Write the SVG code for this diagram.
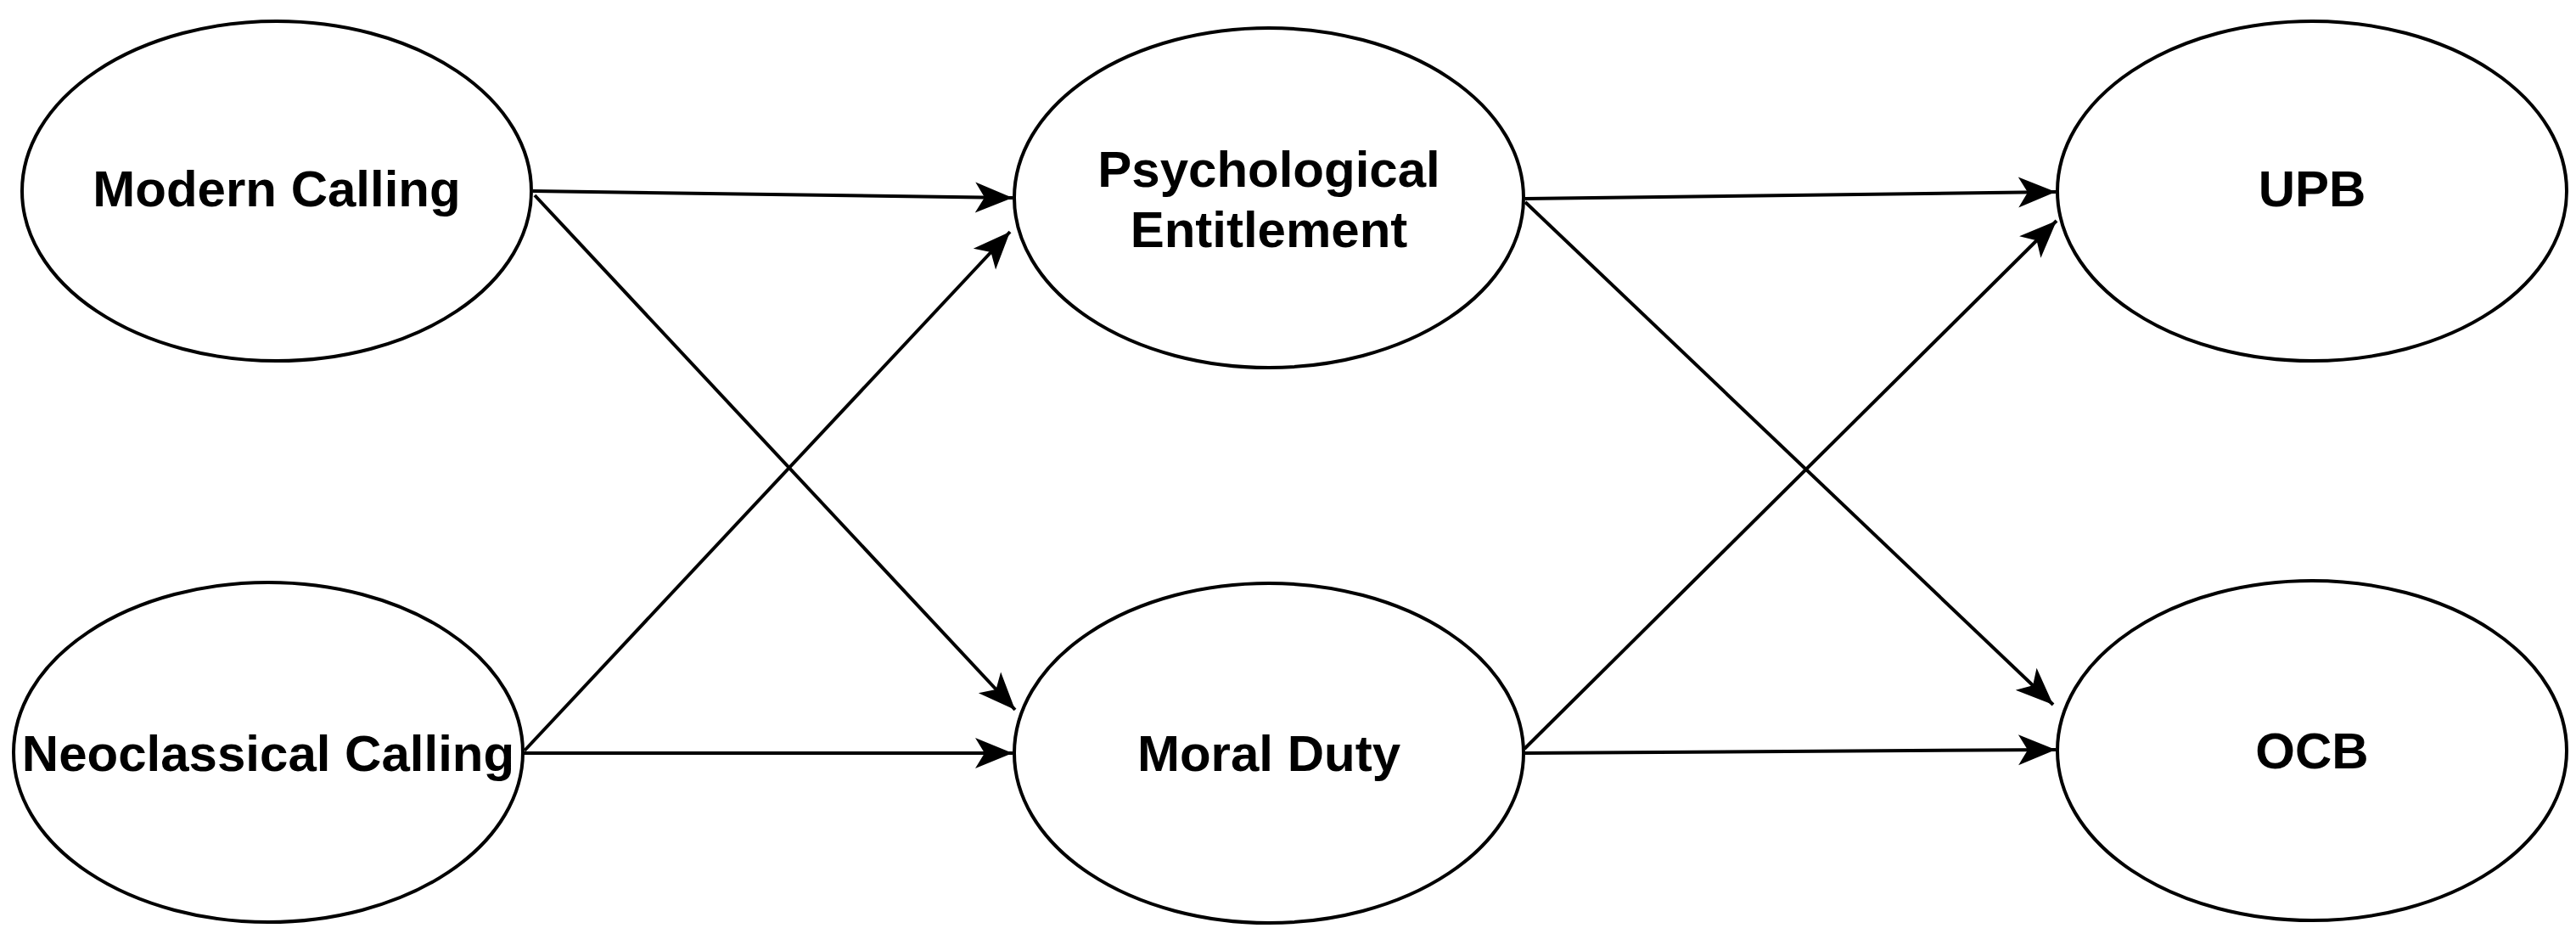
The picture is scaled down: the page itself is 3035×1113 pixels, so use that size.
<svg xmlns="http://www.w3.org/2000/svg" width="3035" height="1113" viewBox="0 0 3035 1113">
<style>
.n{fill:#fff;stroke:#000;stroke-width:4}
.t{font-family:"Liberation Sans",Arial,sans-serif;font-weight:bold;font-size:60px;text-anchor:middle;fill:#000}
.c{stroke:#000;stroke-width:4;fill:none;marker-end:url(#a)}
</style>
<defs>
<marker id="a" markerUnits="userSpaceOnUse" markerWidth="50" markerHeight="50" viewBox="0 0 50 50" refX="46" refY="25" orient="auto">
<path d="M2,7 L46,25 L2,43 L13,25 Z" fill="#000"/>
</marker>
</defs>
<rect width="3035" height="1113" fill="#fff"/>
<g id="connectors">
<line class="c" x1="628" y1="225" x2="1193" y2="233"/>
<line class="c" x1="630" y1="230" x2="1196" y2="836"/>
<line class="c" x1="618" y1="884" x2="1190" y2="273"/>
<line class="c" x1="617" y1="887" x2="1193" y2="887"/>
<line class="c" x1="1797" y1="234" x2="2422" y2="226"/>
<line class="c" x1="1797" y1="238" x2="2419" y2="830"/>
<line class="c" x1="1796" y1="882" x2="2423" y2="260"/>
<line class="c" x1="1797" y1="887" x2="2422" y2="883"/>
</g>
<g id="modern"><ellipse class="n" cx="326" cy="225" rx="300" ry="200"/><text class="t" x="326" y="243">Modern Calling</text></g>
<g id="neoclassical"><ellipse class="n" cx="316" cy="886" rx="300" ry="200"/><text class="t" x="316" y="908">Neoclassical Calling</text></g>
<g id="psych"><ellipse class="n" cx="1495" cy="233" rx="300" ry="200"/><text class="t" x="1495" y="220">Psychological</text><text class="t" x="1495" y="291">Entitlement</text></g>
<g id="moral"><ellipse class="n" cx="1495" cy="887" rx="300" ry="200"/><text class="t" x="1495" y="908">Moral Duty</text></g>
<g id="upb"><ellipse class="n" cx="2724" cy="225" rx="300" ry="200"/><text class="t" x="2724" y="243">UPB</text></g>
<g id="ocb"><ellipse class="n" cx="2724" cy="884" rx="300" ry="200"/><text class="t" x="2724" y="905">OCB</text></g>
</svg>
